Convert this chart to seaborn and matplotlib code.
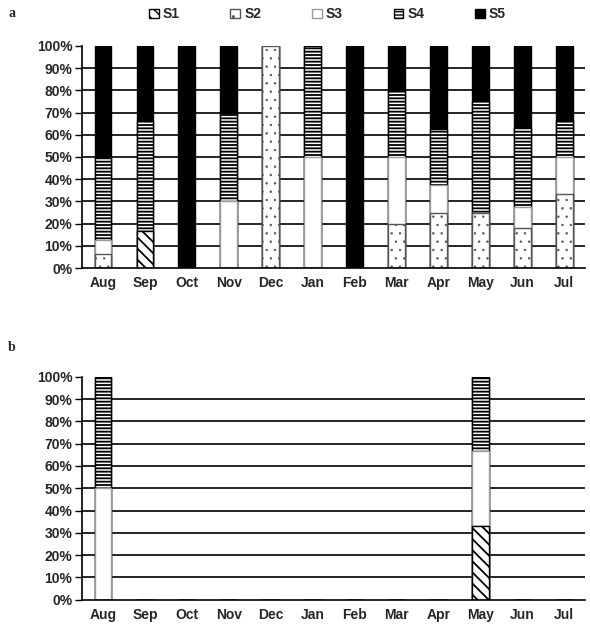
import matplotlib
matplotlib.use("Agg")
import matplotlib.pyplot as plt
import matplotlib.patches as mpatches
import numpy as np
import pandas as pd
import seaborn as sns

months = ['Aug', 'Sep', 'Oct', 'Nov', 'Dec', 'Jan', 'Feb', 'Mar', 'Apr', 'May', 'Jun', 'Jul']
series_names = ['S1', 'S2', 'S3', 'S4', 'S5']

# Panel a (percent)
a_s1 = [0, 16.7, 0, 0, 0, 0, 0, 0, 0, 0, 0, 0]
a_s2 = [6.5, 0, 0, 0, 100, 0, 0, 20, 25, 25, 18.2, 33.3]
a_s3 = [6.0, 0, 0, 30, 0, 50, 0, 30, 12.5, 0, 9.1, 16.7]
a_s4 = [37.5, 50, 0, 40, 0, 50, 0, 30, 25, 50, 36.4, 16.7]
a_s5 = [50, 33.3, 100, 30, 0, 0, 100, 20, 37.5, 25, 36.3, 33.3]

# Panel b (percent)
b_s1 = [0, 0, 0, 0, 0, 0, 0, 0, 0, 33.3, 0, 0]
b_s2 = [0, 0, 0, 0, 0, 0, 0, 0, 0, 0, 0, 0]
b_s3 = [50, 0, 0, 0, 0, 0, 0, 0, 0, 33.3, 0, 0]
b_s4 = [50, 0, 0, 0, 0, 0, 0, 0, 0, 33.4, 0, 0]
b_s5 = [0, 0, 0, 0, 0, 0, 0, 0, 0, 0, 0, 0]

y_ticks = [0, 10, 20, 30, 40, 50, 60, 70, 80, 90, 100]
y_labels = ['0%', '10%', '20%', '30%', '40%', '50%', '60%', '70%', '80%', '90%', '100%']

sns.set_style("white")
plt.rcParams['font.family'] = ['Liberation Sans', 'DejaVu Sans']

styles = {
    'S1': dict(color='white', edgecolor='black', hatch='\\\\\\', hlw=1.3),
    'S2': dict(color='white', edgecolor='#555555', hatch='..', hlw=0.5),
    'S3': dict(color='white', edgecolor='#9a9a9a', hatch=None, hlw=1.0),
    'S4': dict(color='white', edgecolor='black', hatch='-----', hlw=1.3),
    'S5': dict(color='black', edgecolor='black', hatch=None, hlw=1.0),
}

fig = plt.figure(figsize=(5.9, 6.28), dpi=100)
ax_a = fig.add_axes([0.139, 0.573, 0.853, 0.354])
ax_b = fig.add_axes([0.139, 0.045, 0.853, 0.355])


def draw_panel(ax, data):
    df = pd.DataFrame(data, index=months)
    cum = df[series_names].cumsum(axis=1)
    # overlay cumulative bars from top series down to bottom series
    for name in reversed(series_names):
        st = styles[name]
        with plt.rc_context({'hatch.linewidth': st['hlw']}):
            sns.barplot(x=months, y=cum[name].values, order=months, ax=ax,
                        color=st['color'], edgecolor=st['edgecolor'], hatch=st['hatch'],
                        linewidth=1.0, width=0.4, saturation=1, errorbar=None, zorder=3)
    ax.set_xlim(-0.5, len(months) - 0.5)
    ax.set_ylim(0, 100)
    ax.set_yticks(y_ticks)
    ax.set_yticklabels(y_labels, fontsize=10, fontweight='bold')
    ax.set_xticks(range(len(months)))
    ax.set_xticklabels(months, fontsize=10, fontweight='bold')
    ax.set_xlabel('')
    ax.set_ylabel('')
    ax.tick_params(axis='x', which='major', length=0, pad=6)
    ax.set_xticks(np.arange(0.5, len(months) - 0.5, 1.0), minor=True)
    ax.tick_params(axis='x', which='minor', length=5, width=1, color='black', direction='out')
    ax.tick_params(axis='y', which='major', length=5, width=1, color='black', direction='out',
                   left=True, pad=2)
    for y in y_ticks[1:-1]:
        ax.axhline(y, color='black', linewidth=1.2, zorder=1)
    for s in ['top', 'right']:
        ax.spines[s].set_visible(False)
    for s in ['left', 'bottom']:
        ax.spines[s].set_color('black')
        ax.spines[s].set_linewidth(1.2)
        ax.spines[s].set_zorder(4)


draw_panel(ax_a, {'S1': a_s1, 'S2': a_s2, 'S3': a_s3, 'S4': a_s4, 'S5': a_s5})
draw_panel(ax_b, {'S1': b_s1, 'S2': b_s2, 'S3': b_s3, 'S4': b_s4, 'S5': b_s5})

handles = []
for name in series_names:
    st = styles[name]
    with plt.rc_context({'hatch.linewidth': st['hlw']}):
        handles.append(mpatches.Patch(facecolor=st['color'], edgecolor=st['edgecolor'],
                                      hatch=st['hatch'], linewidth=1.0, label=name))
fig.legend(handles=handles, loc='upper center', bbox_to_anchor=(0.555, 1.008), ncol=5,
           frameon=False, prop={'weight': 'bold', 'size': 10},
           handlelength=0.7, handleheight=0.7, handletextpad=0.3, columnspacing=3.65)

fig.text(0.014, 0.978, 'a', fontsize=10, fontweight='bold', family=['Liberation Serif', 'DejaVu Serif'],
         va='center')
fig.text(0.014, 0.447, 'b', fontsize=10, fontweight='bold', family=['Liberation Serif', 'DejaVu Serif'],
         va='center')

fig.savefig('out.png', dpi=100)
